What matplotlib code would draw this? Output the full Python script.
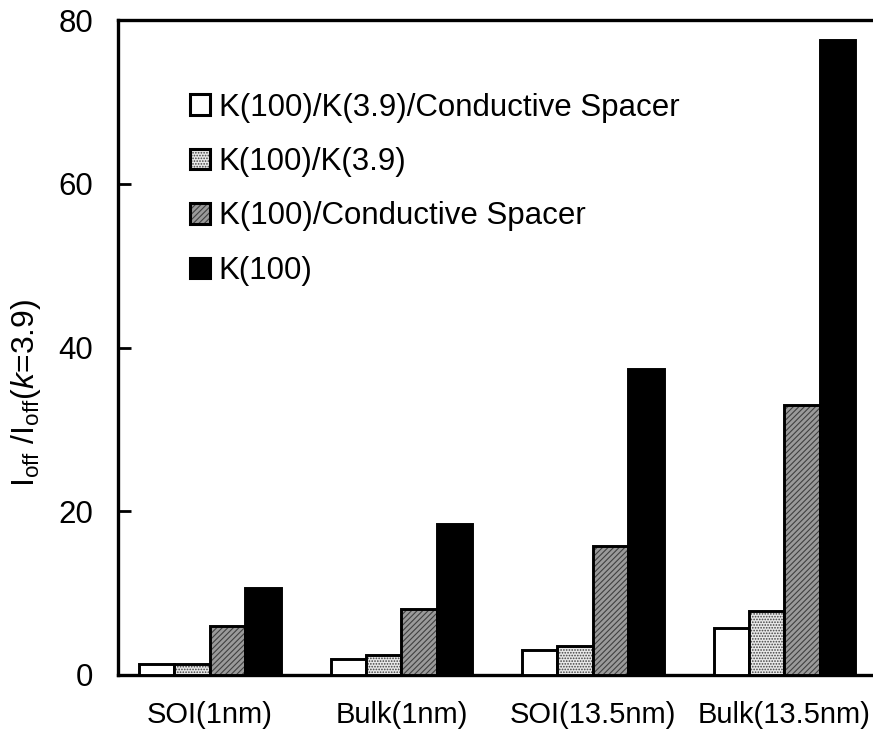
import matplotlib
matplotlib.use("Agg")
import matplotlib.pyplot as plt
import numpy as np

categories = ["SOI(1nm)", "Bulk(1nm)", "SOI(13.5nm)", "Bulk(13.5nm)"]
series_names = ["K(100)/K(3.9)/Conductive Spacer", "K(100)/K(3.9)",
                "K(100)/Conductive Spacer", "K(100)"]
s_cond_both = [1.4, 1.9, 3.0, 5.8]
s_k39 = [1.3, 2.4, 3.6, 7.8]
s_cond = [6.0, 8.1, 15.8, 33.0]
s_k100 = [10.6, 18.5, 37.4, 77.5]

plt.rcParams['font.family'] = ['Liberation Sans', 'DejaVu Sans']
plt.rcParams['mathtext.fontset'] = 'custom'
plt.rcParams['mathtext.rm'] = 'Liberation Sans'
plt.rcParams['mathtext.it'] = 'Liberation Sans:italic'
plt.rcParams['hatch.linewidth'] = 0.8

fig = plt.figure(figsize=(8.73, 7.35), dpi=100)
ax = fig.add_axes([118/873, 60/735, 773.6/873, 655/735])

x = np.arange(len(categories))
w = 0.185
values = [s_cond_both, s_k39, s_cond, s_k100]
styles = [
    dict(facecolor="white", hatch=None),
    dict(facecolor="#e8e8e8", hatch="......"),
    dict(facecolor="#9a9a9a", hatch="//////"),
    dict(facecolor="black", hatch=None),
]
for i, (vals, st, name) in enumerate(zip(values, styles, series_names)):
    bars = ax.bar(x + (i - 1.5) * w, vals, w, label=name, facecolor=st["facecolor"],
                  edgecolor="black", linewidth=2.1, hatch=st["hatch"], zorder=3)
    if st["hatch"]:
        for b in bars:
            b._hatch_color = (0.25, 0.25, 0.25, 1.0)

ax.set_xlim(-0.48, 3.56)
ax.set_ylim(0, 80)
ax.set_yticks([0, 20, 40, 60, 80])
ax.set_xticks(x)
ax.set_xticklabels(categories, fontsize=21)
ax.tick_params(axis='y', direction='in', length=9, width=2, labelsize=22.5, pad=18)
ax.tick_params(axis='x', length=0, pad=19)
for sp in ax.spines.values():
    sp.set_linewidth(2.4)
ax.spines['right'].set_visible(False)

ax.set_ylabel(r"I$_{\mathrm{off}}$ /I$_{\mathrm{off}}$($k$=3.9)", fontsize=23)
ax.yaxis.set_label_coords(-0.097, 0.43)

leg = ax.legend(loc="upper left", bbox_to_anchor=(0.093, 0.889), frameon=False,
                fontsize=22.5, handlelength=0.64, handleheight=0.64, handletextpad=0.28,
                labelspacing=0.78, borderaxespad=0, borderpad=0)
for h in leg.legend_handles:
    h.set_linewidth(2.2)

fig.savefig("out.png", dpi=100)
